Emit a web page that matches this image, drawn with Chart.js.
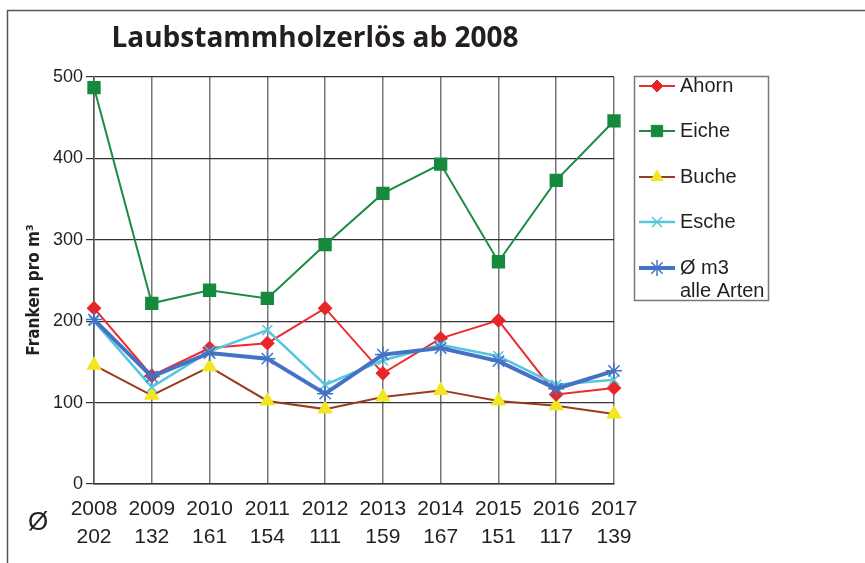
<!DOCTYPE html>
<html>
<head>
<meta charset="utf-8">
<script src="https://cdn.jsdelivr.net/npm/chart.js@4.4.1/dist/chart.umd.min.js"></script>
<style>
  body { margin: 0; background: #fff; }
  #wrap { position: relative; width: 865px; height: 563px; }
</style>
</head>
<body>
<div id="wrap"><canvas id="chart" width="865" height="563"></canvas></div>
<script>
// data
const years = ['2008', '2009', '2010', '2011', '2012', '2013', '2014', '2015', '2016', '2017'];
const ahorn = [216, 133, 167, 173, 216, 136, 179, 201, 110, 118];
const eiche = [487, 222, 238, 228, 294, 357, 393, 273, 373, 446];
const buche = [146, 109, 144, 102, 92, 107, 115, 102, 96, 86];
const esche = [200, 119, 163, 189, 122, 152, 171, 157, 122, 128];
const mittel = [202, 132, 161, 154, 111, 159, 167, 151, 117, 139];
const yTicks = [0, 100, 200, 300, 400, 500];

const labelFont = "'Liberation Sans', Arial, sans-serif";

// custom legend + title + frame, drawn on the canvas
const extras = {
    id: 'extras',
    afterDraw(chart) {
        const ctx = chart.ctx;
        ctx.save();

        // outer frame (top + left)
        ctx.strokeStyle = '#555';
        ctx.lineWidth = 1.5;
        ctx.beginPath();
        ctx.moveTo(865, 10.5);
        ctx.lineTo(7.5, 10.5);
        ctx.lineTo(7.5, 563);
        ctx.stroke();

        // title
        ctx.fillStyle = '#231f20';
        ctx.font = "bold 28px 'Open Sans', sans-serif";
        ctx.textAlign = 'center';
        ctx.textBaseline = 'middle';
        ctx.fillText('Laubstammholzerlös ab 2008', 315, 39);

        // y axis title
        ctx.save();
        ctx.translate(35, 290);
        ctx.rotate(-Math.PI / 2);
        ctx.font = "bold 17px 'DejaVu Sans Condensed', 'Liberation Sans', sans-serif";
        ctx.fillText('Franken pro m³', 0, 0);
        ctx.restore();

        // Ø in front of the average row
        ctx.font = '26px ' + labelFont;
        ctx.fillText('Ø', 38, 523);

        // legend box
        ctx.strokeStyle = '#777';
        ctx.lineWidth = 1.5;
        ctx.strokeRect(634.5, 76.5, 134, 224);

        const rows = [86, 131, 177, 222, 268];
        const names = [['Ahorn'], ['Eiche'], ['Buche'], ['Esche'], ['Ø m3', 'alle Arten']];
        chart.data.datasets.forEach((ds, i) => {
            const y = rows[i];
            ctx.strokeStyle = ds.borderColor;
            ctx.lineWidth = ds.borderWidth;
            ctx.beginPath();
            ctx.moveTo(639, y);
            ctx.lineTo(675, y);
            ctx.stroke();
            ctx.fillStyle = ds.pointBackgroundColor;
            ctx.strokeStyle = ds.pointBorderColor;
            ctx.lineWidth = ds.pointBorderWidth || 1;
            Chart.helpers.drawPoint(ctx, {
                pointStyle: ds.pointStyle,
                radius: ds.pointRadius,
                borderWidth: ds.pointBorderWidth || 1,
                rotation: 0
            }, 657, y);
            ctx.fillStyle = '#231f20';
            ctx.font = '20px ' + labelFont;
            ctx.textAlign = 'left';
            names[i].forEach((t, k) => ctx.fillText(t, 680, y + k * 23));
        });

        ctx.restore();
    }
};

new Chart(document.getElementById('chart'), {
    type: 'line',
    data: {
        labels: years.map((y, i) => [y, String(mittel[i])]),
        datasets: [
            {
                label: 'Ahorn',
                data: ahorn,
                borderColor: '#ee2b2b',
                borderWidth: 2,
                pointStyle: 'rectRot',
                pointRadius: 6,
                pointBackgroundColor: '#e8262a',
                pointBorderColor: '#e8262a',
                order: 3
            },
            {
                label: 'Eiche',
                data: eiche,
                borderColor: '#1b8c42',
                borderWidth: 2,
                pointStyle: 'rect',
                pointRadius: 8,
                pointBackgroundColor: '#15893c',
                pointBorderColor: '#15893c',
                order: 4
            },
            {
                label: 'Buche',
                data: buche,
                borderColor: '#9b3a1d',
                borderWidth: 2,
                pointStyle: 'triangle',
                pointRadius: 7,
                pointBackgroundColor: '#f2e622',
                pointBorderColor: '#f2e622',
                order: 5
            },
            {
                label: 'Esche',
                data: esche,
                borderColor: '#55c6de',
                borderWidth: 2.5,
                pointStyle: 'crossRot',
                pointRadius: 7,
                pointBorderWidth: 1.5,
                pointBackgroundColor: '#55c6de',
                pointBorderColor: '#55c6de',
                order: 2
            },
            {
                label: 'Ø m3 alle Arten',
                data: mittel,
                borderColor: '#4472c4',
                borderWidth: 4,
                pointStyle: 'star',
                pointRadius: 8,
                pointBorderWidth: 1.5,
                pointBackgroundColor: '#4472c4',
                pointBorderColor: '#4472c4',
                order: 1
            }
        ]
    },
    options: {
        responsive: false,
        animation: false,
        layout: { padding: { left: 24, right: 251, top: 77, bottom: 0 } },
        plugins: {
            legend: { display: false },
            title: { display: false },
            tooltip: { enabled: false }
        },
        elements: { line: { tension: 0 } },
        scales: {
            x: {
                offset: false,
                border: { color: '#333', width: 1.5 },
                grid: { color: '#777', lineWidth: 1.5, drawTicks: false },
                ticks: {
                    color: '#231f20',
                    font: { family: labelFont, size: 21, lineHeight: 1.35 },
                    padding: 11,
                    maxRotation: 0,
                    autoSkip: false
                },
                afterFit(scale) { scale.height = 79; }
            },
            y: {
                min: 0,
                max: 500,
                afterBuildTicks(scale) { scale.ticks = yTicks.map(v => ({ value: v })); },
                border: { color: '#555', width: 1.5 },
                grid: { color: '#333', lineWidth: 1.2, tickLength: 8 },
                ticks: {
                    color: '#231f20',
                    font: { family: labelFont, size: 18 },
                    padding: 3
                },
                afterFit(scale) { scale.width = 70; }
            }
        }
    },
    plugins: [extras]
});
</script>
</body>
</html>
